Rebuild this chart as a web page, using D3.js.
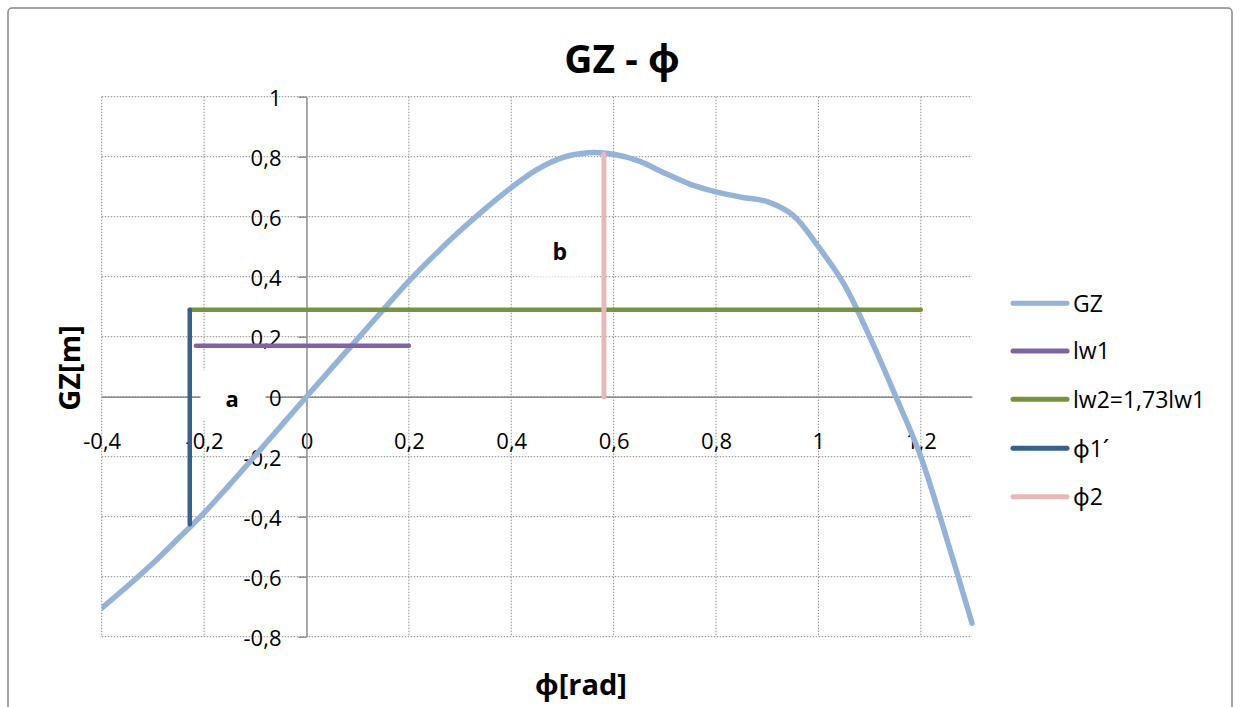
<!DOCTYPE html>
<html>
<head>
<meta charset="utf-8">
<script src="https://cdn.jsdelivr.net/npm/d3@7"></script>
<style>
  body { margin: 0; background: #fff; }
  text { font-family: "Open Sans", "Noto Sans", sans-serif; fill: #000; }
</style>
</head>
<body>
<svg id="chart" width="1241" height="707"></svg>
<script>
// Righting-lever curve GZ(ϕ)
const gzPhi = [-0.4, -0.35, -0.3, -0.25, -0.2, -0.15, -0.1, -0.05, 0, 0.05, 0.1, 0.15, 0.2, 0.25,
  0.3, 0.35, 0.4, 0.45, 0.5, 0.55, 0.6, 0.65, 0.7, 0.75, 0.8, 0.85, 0.9, 0.95, 1.0, 1.05,
  1.1, 1.15, 1.2, 1.25, 1.3];
const gzValues = [-0.705, -0.632, -0.555, -0.472, -0.387, -0.293, -0.196, -0.098, 0, 0.097, 0.193, 0.29, 0.385, 0.472,
  0.553, 0.628, 0.697, 0.757, 0.797, 0.813, 0.808, 0.785, 0.745, 0.708, 0.683, 0.665, 0.65, 0.605, 0.5, 0.375,
  0.2, 0.005, -0.2, -0.47, -0.755];

// Wind heeling levers and limiting angles
const lw1Phi = [-0.216, 0.2];
const lw1Values = [0.17, 0.17];
const lw2Phi = [-0.228, 1.2];
const lw2Values = [0.29, 0.29];
const phi1Phi = [-0.228, -0.228];
const phi1Values = [0.29, -0.425];
const phi2Phi = [0.581, 0.581];
const phi2Values = [0, 0.808];

const seriesNames = ["GZ", "lw1", "lw2=1,73lw1", "ϕ1´", "ϕ2"];
const seriesColors = ["#95B3D7", "#8064A2", "#77933C", "#376092", "#E6B9B8"];

const xTicks = [-0.4, -0.2, 0, 0.2, 0.4, 0.6, 0.8, 1, 1.2];
const yTicks = [-0.8, -0.6, -0.4, -0.2, 0, 0.2, 0.4, 0.6, 0.8, 1];

const svg = d3.select("#chart");
const x = d3.scaleLinear([-0.4, 1.3], [101.7, 972]);
const y = d3.scaleLinear([-0.8, 1], [636.7, 96.7]);

const fmt = d3.formatLocale({ decimal: ",", thousands: ".", grouping: [3], currency: ["", ""], minus: "-" }).format("~g");

// outer chart frame
svg.append("rect")
  .attr("x", 8).attr("y", 8).attr("width", 1224).attr("height", 710)
  .attr("rx", 4)
  .attr("fill", "#fff").attr("stroke", "#868686").attr("stroke-width", 1.5);

// dotted grid
const grid = svg.append("g").attr("stroke", "#8c8c8c").attr("stroke-width", 1)
  .attr("stroke-dasharray", "1.5,1.5").attr("fill", "none");
grid.selectAll("line.h").data(yTicks).join("line")
  .attr("x1", x(-0.4)).attr("x2", x(1.3))
  .attr("y1", d => y(d)).attr("y2", d => y(d));
grid.selectAll("line.v").data(xTicks.filter(d => d !== 0)).join("line")
  .attr("x1", d => x(d)).attr("x2", d => x(d))
  .attr("y1", y(1)).attr("y2", y(-0.8));

// axes crossing at the origin
const xAxis = d3.axisBottom(x).tickValues(xTicks).tickFormat(fmt).tickSize(0).tickPadding(37);
const gx = svg.append("g").attr("transform", `translate(0,${y(0)})`).call(xAxis);
gx.select(".domain").attr("stroke", "#8c8c8c").attr("stroke-width", 1.5);
gx.selectAll("text").attr("font-size", 22).attr("fill", "#000")
  .attr("font-family", "'Open Sans', 'Noto Sans', sans-serif");

const yAxis = d3.axisLeft(y).tickValues(yTicks).tickFormat(fmt).tickSizeOuter(0).tickSizeInner(8).tickPadding(17);
const gy = svg.append("g").attr("transform", `translate(${x(0)},0)`).call(yAxis);
gy.select(".domain").attr("stroke", "#8c8c8c").attr("stroke-width", 1.5);
gy.selectAll(".tick line").attr("stroke", "#8c8c8c").attr("stroke-width", 1.5);
gy.selectAll("text").attr("font-size", 22).attr("fill", "#000").attr("dy", "0.42em")
  .attr("font-family", "'Open Sans', 'Noto Sans', sans-serif");

// label boxes for "a" and "b" sit over the grid
svg.append("rect")
  .attr("x", x(-0.207)).attr("y", y(0.088))
  .attr("width", x(-0.08) - x(-0.207)).attr("height", y(-0.078) - y(0.088))
  .attr("fill", "#fff");
svg.append("rect")
  .attr("x", x(0.435)).attr("y", y(0.57))
  .attr("width", x(0.557) - x(0.435)).attr("height", y(0.398) - y(0.57))
  .attr("fill", "#fff").attr("fill-opacity", 0.7);

// series
const line = d3.line().x(d => x(d[0])).y(d => y(d[1]));
const series = [
  { pts: d3.zip(gzPhi, gzValues), curve: d3.curveCatmullRom.alpha(0.5), w: 5.5 },
  { pts: d3.zip(lw1Phi, lw1Values), curve: d3.curveLinear, w: 4.5 },
  { pts: d3.zip(lw2Phi, lw2Values), curve: d3.curveLinear, w: 4.5 },
  { pts: d3.zip(phi1Phi, phi1Values), curve: d3.curveLinear, w: 4.5 },
  { pts: d3.zip(phi2Phi, phi2Values), curve: d3.curveLinear, w: 5 }
];
svg.append("clipPath").attr("id", "plotClip").append("rect")
  .attr("x", x(-0.4)).attr("y", y(1)).attr("width", x(1.3) - x(-0.4) + 4).attr("height", y(-0.8) - y(1));
svg.append("g").attr("clip-path", "url(#plotClip)")
  .selectAll("path").data(series).join("path")
  .attr("d", s => line.curve(s.curve)(s.pts))
  .attr("fill", "none")
  .attr("stroke", (s, i) => seriesColors[i])
  .attr("stroke-width", s => s.w)
  .attr("stroke-linecap", "round").attr("stroke-linejoin", "round");

// annotations
svg.append("text").attr("x", x(-0.145)).attr("y", y(-0.035))
  .attr("text-anchor", "middle").attr("font-size", 22).attr("font-weight", "bold").text("a");
svg.append("text").attr("x", x(0.495)).attr("y", y(0.455))
  .attr("text-anchor", "middle").attr("font-size", 23).attr("font-weight", "bold").text("b");

// titles
svg.append("text").attr("x", 622).attr("y", 73).attr("text-anchor", "middle")
  .attr("font-size", 39).attr("font-weight", "bold").text("GZ - ϕ");
svg.append("text").attr("transform", "translate(80,368) rotate(-90)").attr("text-anchor", "middle")
  .attr("font-size", 29).attr("font-weight", "bold").text("GZ[m]");
svg.append("text").attr("x", 581).attr("y", 695).attr("text-anchor", "middle")
  .attr("font-size", 29).attr("font-weight", "bold").text("ϕ[rad]");

// legend
const legendY = [303.3, 351, 399.3, 448.3, 496.7];
const lg = svg.append("g").selectAll("g").data(seriesNames).join("g")
  .attr("transform", (d, i) => `translate(1013,${legendY[i]})`);
lg.append("line").attr("x1", 0).attr("x2", 54)
  .attr("stroke", (d, i) => seriesColors[i]).attr("stroke-width", 5).attr("stroke-linecap", "round");
lg.append("text").attr("x", 60).attr("dy", "0.36em").attr("font-size", 23).text(d => d);
</script>
</body>
</html>
